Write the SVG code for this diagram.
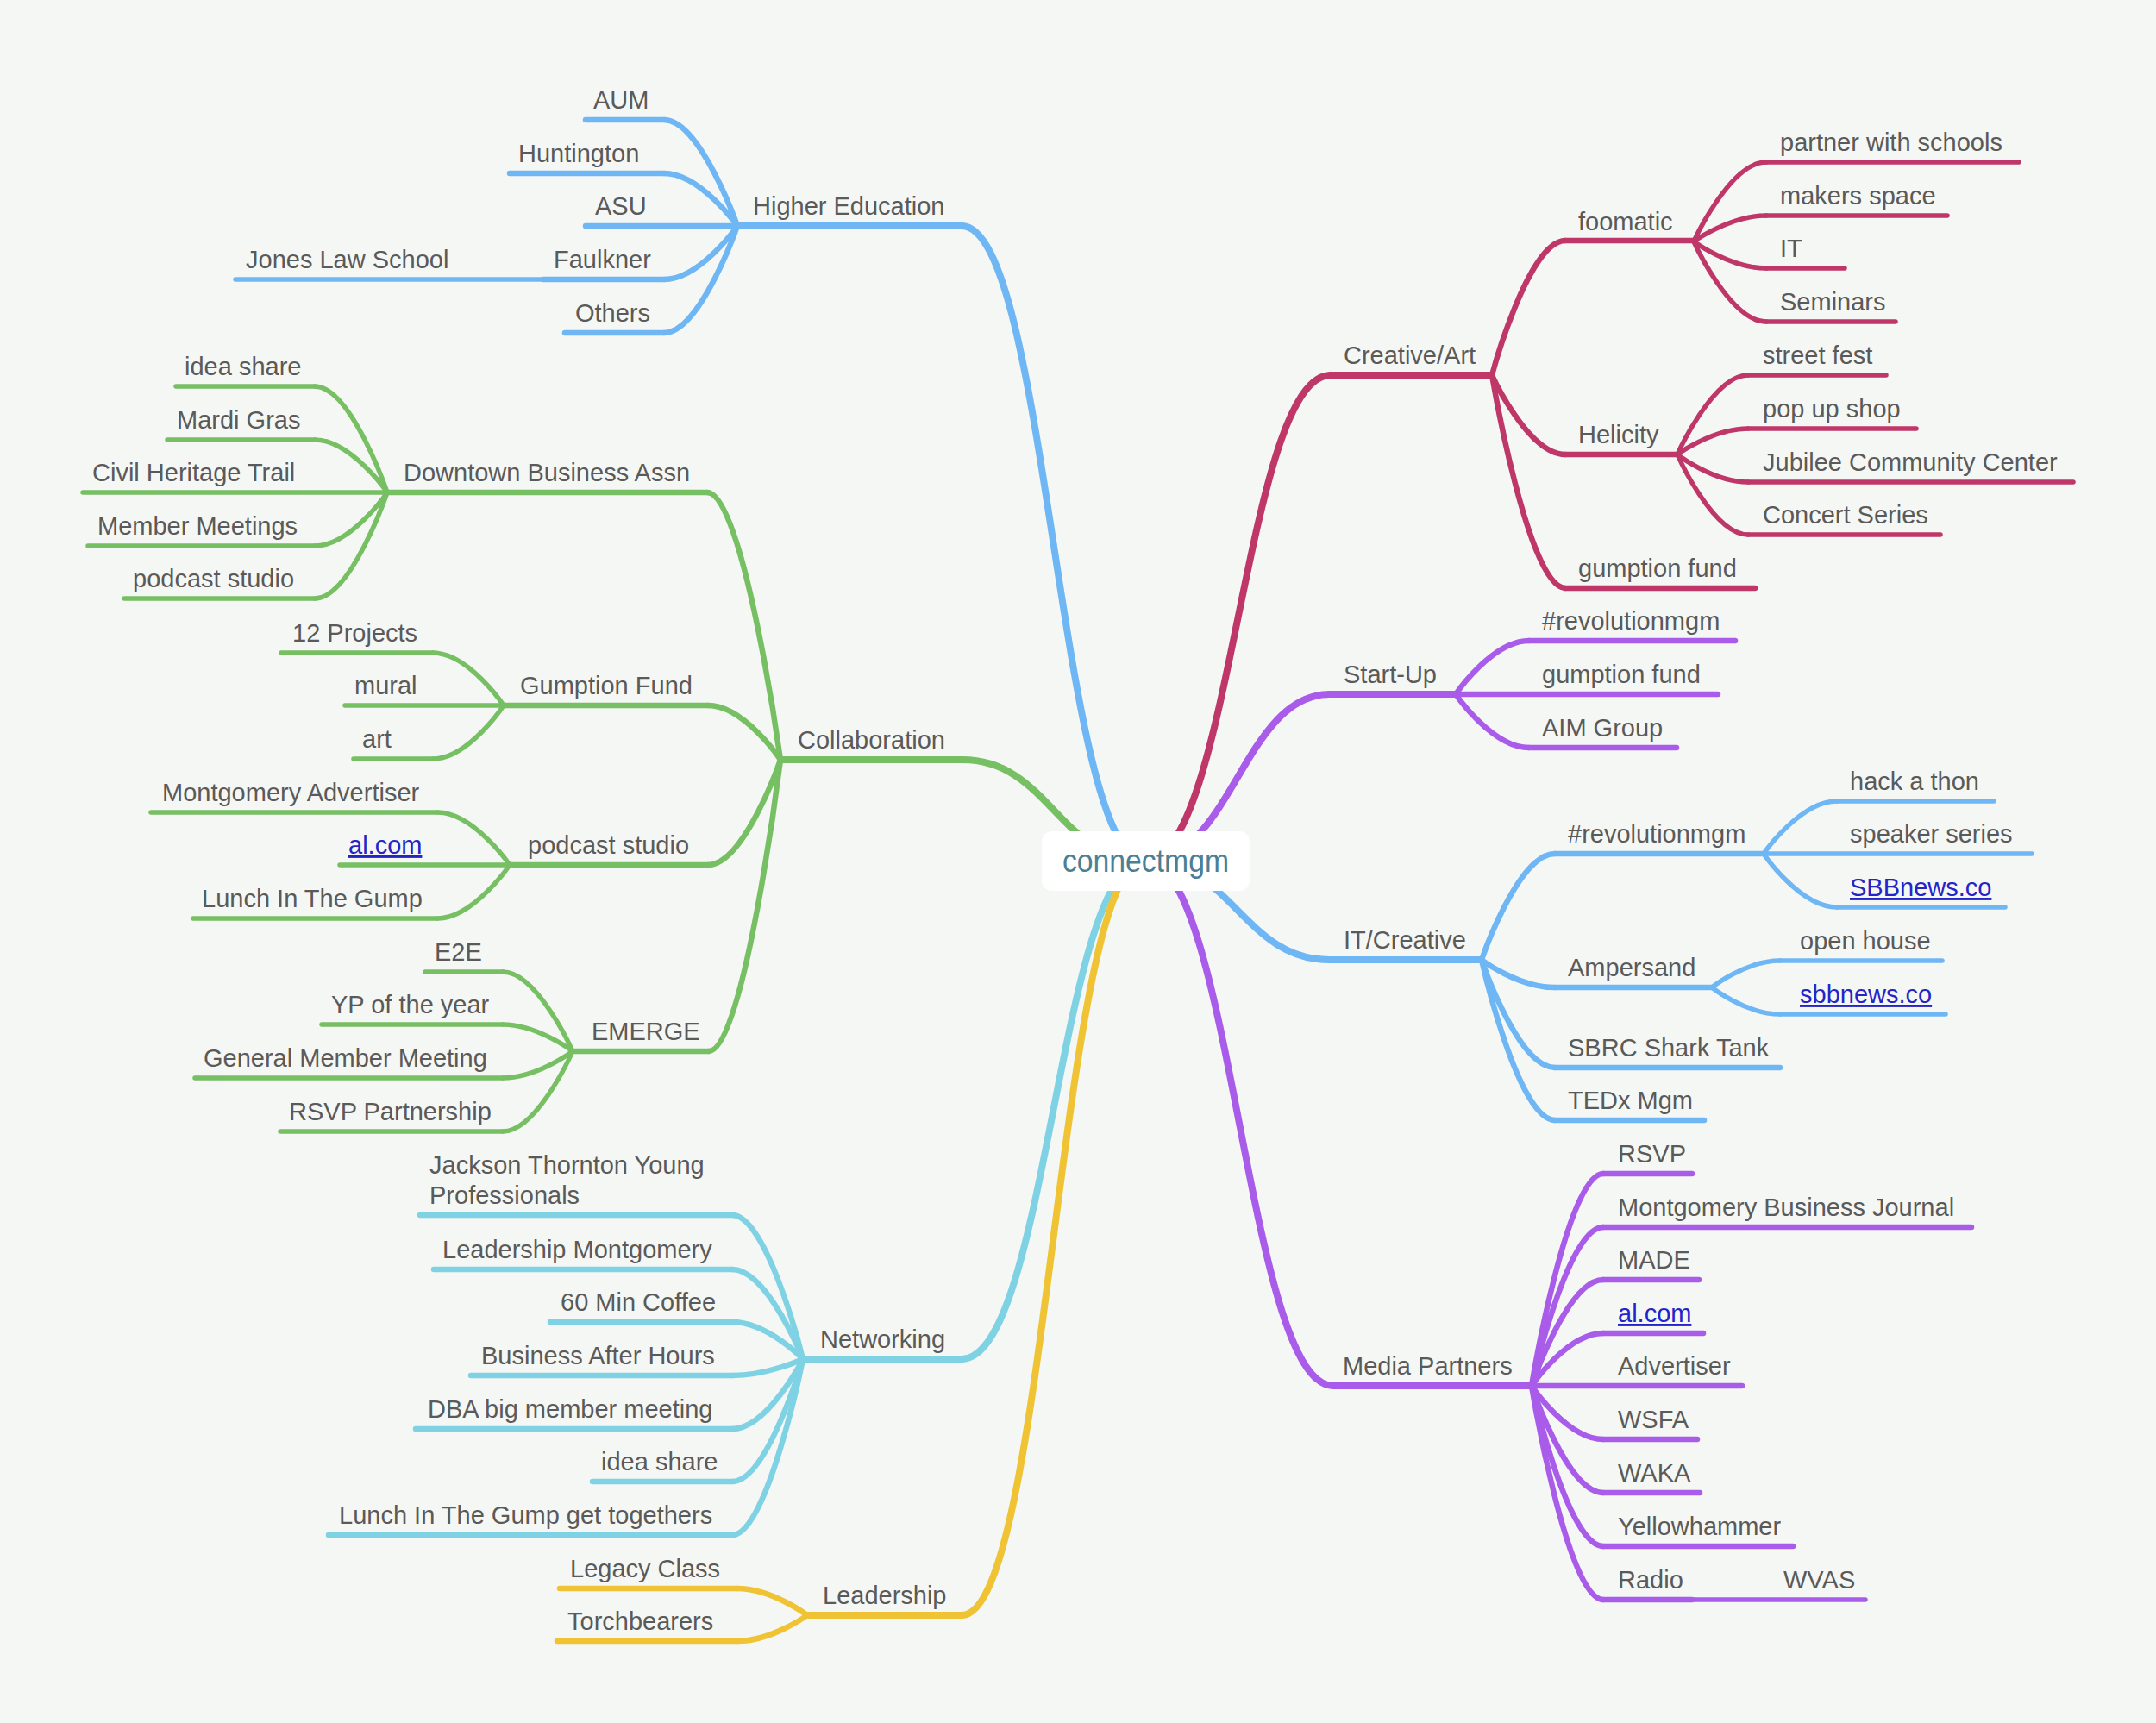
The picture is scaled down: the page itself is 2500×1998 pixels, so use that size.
<svg xmlns="http://www.w3.org/2000/svg" width="2500" height="1998" viewBox="0 0 2500 1998">
<style>
.t{font-family:"Liberation Sans",Arial,Helvetica,sans-serif;font-size:29px;fill:#5a5a5a}
.lk{fill:#2424c8;text-decoration:underline}
.ln{fill:none;stroke-linecap:round;stroke-linejoin:round}
.w1{stroke-width:8}.w2{stroke-width:6.5}.w3{stroke-width:5.5}
.bl{stroke:#6fb7f4}.gr{stroke:#77bf63}.cr{stroke:#bf3768}.pu{stroke:#a95ce9}.cy{stroke:#7fd2e4}.ye{stroke:#efc334}
</style>
<rect x="0" y="0" width="2500" height="1998" fill="#f5f7f4"/>
<g id="connectors" class="ln">
<!-- main branches -->
<path class="bl w1" d="M1328,998 C1228,998 1215,262 1115,262"/>
<path class="gr w1" d="M1328,998 C1228,998 1216,881 1116,881"/>
<path class="cy w1" d="M1328,998 C1228,998 1215,1576 1115,1576"/>
<path class="ye w1" d="M1328,998 C1228,998 1215,1873 1115,1873"/>
<path class="cr w1" d="M1328,998 C1428,998 1443,435 1543,435"/>
<path class="pu w1" d="M1328,998 C1428,998 1442,805 1542,805"/>
<path class="bl w1" d="M1328,998 C1428,998 1442,1113 1542,1113"/>
<path class="pu w1" d="M1328,998 C1428,998 1446,1607 1546,1607"/>
<!-- higher education -->
<path class="bl w2" d="M855,262 C855,262 812,139 770,139"/>
<path class="bl w2" d="M855,262 C855,262 812,201 770,201"/>
<path class="bl w2" d="M855,262 C855,262 812,324 770,324"/>
<path class="bl w2" d="M855,262 C855,262 812,386 770,386"/>
<!-- collaboration -->
<path class="gr w2" d="M905,881 C905,881 862,571 820,571"/>
<path class="gr w2" d="M905,881 C905,881 863,818 821,818"/>
<path class="gr w2" d="M905,881 C905,881 863,1003 821,1003"/>
<path class="gr w2" d="M905,881 C905,881 863,1219 822,1219"/>
<path class="gr w3" d="M449,571 C449,571 407,448 365,448"/>
<path class="gr w3" d="M449,571 C449,571 407,510 365,510"/>
<path class="gr w3" d="M449,571 C449,571 407,633 365,633"/>
<path class="gr w3" d="M449,571 C449,571 407,694 365,694"/>
<path class="gr w3" d="M584,818 C584,818 543,757 502,757"/>
<path class="gr w3" d="M584,818 C584,818 543,880 502,880"/>
<path class="gr w3" d="M591,1003 C591,1003 549,942 507,942"/>
<path class="gr w3" d="M591,1003 C591,1003 549,1065 507,1065"/>
<path class="gr w3" d="M664,1219 C664,1219 623,1127 583,1127"/>
<path class="gr w3" d="M664,1219 C664,1219 623,1188 583,1188"/>
<path class="gr w3" d="M664,1219 C664,1219 623,1250 583,1250"/>
<path class="gr w3" d="M664,1219 C664,1219 623,1312 583,1312"/>
<!-- networking -->
<path class="cy w2" d="M931,1576 C931,1576 890,1409 849,1409"/>
<path class="cy w2" d="M931,1576 C931,1576 890,1472 849,1472"/>
<path class="cy w2" d="M931,1576 C931,1576 890,1533 849,1533"/>
<path class="cy w2" d="M931,1576 C931,1576 890,1595 849,1595"/>
<path class="cy w2" d="M931,1576 C931,1576 890,1657 849,1657"/>
<path class="cy w2" d="M931,1576 C931,1576 890,1718 849,1718"/>
<path class="cy w2" d="M931,1576 C931,1576 890,1780 849,1780"/>
<!-- leadership -->
<path class="ye w2" d="M936,1873 C936,1873 895,1842 855,1842"/>
<path class="ye w2" d="M936,1873 C936,1873 895,1903 855,1903"/>
<!-- creative/art -->
<path class="cr w2" d="M1730,435 C1730,435 1772,279 1815,279"/>
<path class="cr w2" d="M1730,435 C1730,435 1772,527 1815,527"/>
<path class="cr w2" d="M1730,435 C1730,435 1772,682 1815,682"/>
<path class="cr w3" d="M1964,280 C1964,280 2006,188 2048,188"/>
<path class="cr w3" d="M1964,280 C1964,280 2006,250 2048,250"/>
<path class="cr w3" d="M1964,280 C1964,280 2006,311 2048,311"/>
<path class="cr w3" d="M1964,280 C1964,280 2006,373 2048,373"/>
<path class="cr w3" d="M1945,527 C1945,527 1986,435 2027,435"/>
<path class="cr w3" d="M1945,527 C1945,527 1986,497 2027,497"/>
<path class="cr w3" d="M1945,527 C1945,527 1986,559 2027,559"/>
<path class="cr w3" d="M1945,527 C1945,527 1986,620 2027,620"/>
<!-- start-up -->
<path class="pu w2" d="M1688,805 C1688,805 1730,743 1773,743"/>
<path class="pu w2" d="M1688,805 C1688,805 1730,867 1773,867"/>
<!-- it/creative -->
<path class="bl w2" d="M1718,1113 C1718,1113 1760,990 1803,990"/>
<path class="bl w2" d="M1718,1113 C1718,1113 1760,1145 1803,1145"/>
<path class="bl w2" d="M1718,1113 C1718,1113 1760,1238 1803,1238"/>
<path class="bl w2" d="M1718,1113 C1718,1113 1760,1299 1803,1299"/>
<path class="bl w3" d="M2045,990 C2045,990 2087,929 2130,929"/>
<path class="bl w3" d="M2045,990 C2045,990 2087,1052 2130,1052"/>
<path class="bl w3" d="M1985,1145 C1985,1145 2024,1114 2064,1114"/>
<path class="bl w3" d="M1985,1145 C1985,1145 2024,1176 2064,1176"/>
<!-- media partners -->
<path class="pu w2" d="M1776,1607 C1776,1607 1817,1361 1859,1361"/>
<path class="pu w2" d="M1776,1607 C1776,1607 1817,1423 1859,1423"/>
<path class="pu w2" d="M1776,1607 C1776,1607 1817,1484 1859,1484"/>
<path class="pu w2" d="M1776,1607 C1776,1607 1817,1546 1859,1546"/>
<path class="pu w2" d="M1776,1607 C1776,1607 1817,1669 1859,1669"/>
<path class="pu w2" d="M1776,1607 C1776,1607 1817,1731 1859,1731"/>
<path class="pu w2" d="M1776,1607 C1776,1607 1817,1793 1859,1793"/>
<path class="pu w2" d="M1776,1607 C1776,1607 1817,1855 1859,1855"/>
</g>

<!-- LEFT: Higher Education -->
<g id="higher-education"><line class="ln bl w1" x1="855" y1="262" x2="1115" y2="262"/><text class="t" x="873" y="249">Higher Education</text></g>
<g id="aum"><line class="ln bl w2" x1="679" y1="139" x2="770" y2="139"/><text class="t" x="688" y="126">AUM</text></g>
<g id="huntington"><line class="ln bl w2" x1="591" y1="201" x2="770" y2="201"/><text class="t" x="601" y="188">Huntington</text></g>
<g id="asu"><line class="ln bl w2" x1="679" y1="262" x2="855" y2="262"/><text class="t" x="690" y="249">ASU</text></g>
<g id="faulkner"><line class="ln bl w2" x1="630" y1="324" x2="770" y2="324"/><text class="t" x="642" y="311">Faulkner</text></g>
<g id="jones-law-school"><line class="ln bl w3" x1="273" y1="324" x2="630" y2="324"/><text class="t" x="285" y="311">Jones Law School</text></g>
<g id="others"><line class="ln bl w2" x1="655" y1="386" x2="770" y2="386"/><text class="t" x="667" y="373">Others</text></g>

<!-- LEFT: Collaboration -->
<g id="collaboration"><line class="ln gr w1" x1="905" y1="881" x2="1116" y2="881"/><text class="t" x="925" y="868">Collaboration</text></g>
<g id="downtown-business-assn"><line class="ln gr w2" x1="449" y1="571" x2="820" y2="571"/><text class="t" x="468" y="558">Downtown Business Assn</text></g>
<g id="idea-share-1"><line class="ln gr w3" x1="204" y1="448" x2="365" y2="448"/><text class="t" x="214" y="435">idea share</text></g>
<g id="mardi-gras"><line class="ln gr w3" x1="194" y1="510" x2="365" y2="510"/><text class="t" x="205" y="497">Mardi Gras</text></g>
<g id="civil-heritage-trail"><line class="ln gr w3" x1="96" y1="571" x2="449" y2="571"/><text class="t" x="107" y="558">Civil Heritage Trail</text></g>
<g id="member-meetings"><line class="ln gr w3" x1="102" y1="633" x2="365" y2="633"/><text class="t" x="113" y="620">Member Meetings</text></g>
<g id="podcast-studio-1"><line class="ln gr w3" x1="144" y1="694" x2="365" y2="694"/><text class="t" x="154" y="681">podcast studio</text></g>
<g id="gumption-fund-1"><line class="ln gr w2" x1="584" y1="818" x2="821" y2="818"/><text class="t" x="603" y="805">Gumption Fund</text></g>
<g id="12-projects"><line class="ln gr w3" x1="326" y1="757" x2="502" y2="757"/><text class="t" x="339" y="744">12 Projects</text></g>
<g id="mural"><line class="ln gr w3" x1="400" y1="818" x2="584" y2="818"/><text class="t" x="411" y="805">mural</text></g>
<g id="art"><line class="ln gr w3" x1="410" y1="880" x2="502" y2="880"/><text class="t" x="420" y="867">art</text></g>
<g id="podcast-studio-2"><line class="ln gr w2" x1="591" y1="1003" x2="821" y2="1003"/><text class="t" x="612" y="990">podcast studio</text></g>
<g id="montgomery-advertiser"><line class="ln gr w3" x1="175" y1="942" x2="507" y2="942"/><text class="t" x="188" y="929">Montgomery Advertiser</text></g>
<g id="alcom-1"><line class="ln gr w3" x1="394" y1="1003" x2="591" y2="1003"/><text class="t lk" x="404" y="990">al.com</text></g>
<g id="lunch-in-the-gump"><line class="ln gr w3" x1="224" y1="1065" x2="507" y2="1065"/><text class="t" x="234" y="1052">Lunch In The Gump</text></g>
<g id="emerge"><line class="ln gr w2" x1="664" y1="1219" x2="822" y2="1219"/><text class="t" x="686" y="1206">EMERGE</text></g>
<g id="e2e"><line class="ln gr w3" x1="493" y1="1127" x2="583" y2="1127"/><text class="t" x="504" y="1114">E2E</text></g>
<g id="yp-of-the-year"><line class="ln gr w3" x1="373" y1="1188" x2="583" y2="1188"/><text class="t" x="384" y="1175">YP of the year</text></g>
<g id="general-member-meeting"><line class="ln gr w3" x1="226" y1="1250" x2="583" y2="1250"/><text class="t" x="236" y="1237">General Member Meeting</text></g>
<g id="rsvp-partnership"><line class="ln gr w3" x1="325" y1="1312" x2="583" y2="1312"/><text class="t" x="335" y="1299">RSVP Partnership</text></g>

<!-- LEFT: Networking -->
<g id="networking"><line class="ln cy w1" x1="931" y1="1576" x2="1115" y2="1576"/><text class="t" x="951" y="1563">Networking</text></g>
<g id="jackson-thornton"><line class="ln cy w2" x1="487" y1="1409" x2="849" y2="1409"/><text class="t" x="498" y="1361">Jackson Thornton Young</text><text class="t" x="498" y="1396">Professionals</text></g>
<g id="leadership-montgomery"><line class="ln cy w2" x1="503" y1="1472" x2="849" y2="1472"/><text class="t" x="513" y="1459">Leadership Montgomery</text></g>
<g id="60-min-coffee"><line class="ln cy w2" x1="638" y1="1533" x2="849" y2="1533"/><text class="t" x="650" y="1520">60 Min Coffee</text></g>
<g id="business-after-hours"><line class="ln cy w2" x1="546" y1="1595" x2="849" y2="1595"/><text class="t" x="558" y="1582">Business After Hours</text></g>
<g id="dba-big-member-meeting"><line class="ln cy w2" x1="482" y1="1657" x2="849" y2="1657"/><text class="t" x="496" y="1644">DBA big member meeting</text></g>
<g id="idea-share-2"><line class="ln cy w2" x1="687" y1="1718" x2="849" y2="1718"/><text class="t" x="697" y="1705">idea share</text></g>
<g id="lunch-get-togethers"><line class="ln cy w2" x1="381" y1="1780" x2="849" y2="1780"/><text class="t" x="393" y="1767">Lunch In The Gump get togethers</text></g>

<!-- LEFT: Leadership -->
<g id="leadership"><line class="ln ye w1" x1="936" y1="1873" x2="1115" y2="1873"/><text class="t" x="954" y="1860">Leadership</text></g>
<g id="legacy-class"><line class="ln ye w2" x1="649" y1="1842" x2="855" y2="1842"/><text class="t" x="661" y="1829">Legacy Class</text></g>
<g id="torchbearers"><line class="ln ye w2" x1="646" y1="1903" x2="855" y2="1903"/><text class="t" x="658" y="1890">Torchbearers</text></g>

<!-- RIGHT: Creative/Art -->
<g id="creative-art"><line class="ln cr w1" x1="1543" y1="435" x2="1730" y2="435"/><text class="t" x="1558" y="422">Creative/Art</text></g>
<g id="foomatic"><line class="ln cr w2" x1="1815" y1="279" x2="1964" y2="279"/><text class="t" x="1830" y="267">foomatic</text></g>
<g id="partner-with-schools"><line class="ln cr w3" x1="2048" y1="188" x2="2341" y2="188"/><text class="t" x="2064" y="175">partner with schools</text></g>
<g id="makers-space"><line class="ln cr w3" x1="2048" y1="250" x2="2258" y2="250"/><text class="t" x="2064" y="237">makers space</text></g>
<g id="it"><line class="ln cr w3" x1="2048" y1="311" x2="2139" y2="311"/><text class="t" x="2064" y="298">IT</text></g>
<g id="seminars"><line class="ln cr w3" x1="2048" y1="373" x2="2198" y2="373"/><text class="t" x="2064" y="360">Seminars</text></g>
<g id="helicity"><line class="ln cr w2" x1="1815" y1="527" x2="1945" y2="527"/><text class="t" x="1830" y="514">Helicity</text></g>
<g id="street-fest"><line class="ln cr w3" x1="2027" y1="435" x2="2187" y2="435"/><text class="t" x="2044" y="422">street fest</text></g>
<g id="pop-up-shop"><line class="ln cr w3" x1="2027" y1="497" x2="2222" y2="497"/><text class="t" x="2044" y="484">pop up shop</text></g>
<g id="jubilee"><line class="ln cr w3" x1="2027" y1="559" x2="2404" y2="559"/><text class="t" x="2044" y="546">Jubilee Community Center</text></g>
<g id="concert-series"><line class="ln cr w3" x1="2027" y1="620" x2="2250" y2="620"/><text class="t" x="2044" y="607">Concert Series</text></g>
<g id="gumption-fund-2"><line class="ln cr w2" x1="1815" y1="682" x2="2035" y2="682"/><text class="t" x="1830" y="669">gumption fund</text></g>

<!-- RIGHT: Start-Up -->
<g id="start-up"><line class="ln pu w1" x1="1542" y1="805" x2="1688" y2="805"/><text class="t" x="1558" y="792">Start-Up</text></g>
<g id="revolutionmgm-1"><line class="ln pu w2" x1="1773" y1="743" x2="2012" y2="743"/><text class="t" x="1788" y="730">#revolutionmgm</text></g>
<g id="gumption-fund-3"><line class="ln pu w2" x1="1688" y1="805" x2="1992" y2="805"/><text class="t" x="1788" y="792">gumption fund</text></g>
<g id="aim-group"><line class="ln pu w2" x1="1773" y1="867" x2="1944" y2="867"/><text class="t" x="1788" y="854">AIM Group</text></g>

<!-- RIGHT: IT/Creative -->
<g id="it-creative"><line class="ln bl w1" x1="1542" y1="1113" x2="1718" y2="1113"/><text class="t" x="1558" y="1100">IT/Creative</text></g>
<g id="revolutionmgm-2"><line class="ln bl w2" x1="1803" y1="990" x2="2045" y2="990"/><text class="t" x="1818" y="977">#revolutionmgm</text></g>
<g id="hack-a-thon"><line class="ln bl w3" x1="2130" y1="929" x2="2312" y2="929"/><text class="t" x="2145" y="916">hack a thon</text></g>
<g id="speaker-series"><line class="ln bl w3" x1="2045" y1="990" x2="2356" y2="990"/><text class="t" x="2145" y="977">speaker series</text></g>
<g id="sbbnews-1"><line class="ln bl w3" x1="2130" y1="1052" x2="2325" y2="1052"/><text class="t lk" x="2145" y="1039">SBBnews.co</text></g>
<g id="ampersand"><line class="ln bl w2" x1="1803" y1="1145" x2="1985" y2="1145"/><text class="t" x="1818" y="1132">Ampersand</text></g>
<g id="open-house"><line class="ln bl w3" x1="2064" y1="1114" x2="2252" y2="1114"/><text class="t" x="2087" y="1101">open house</text></g>
<g id="sbbnews-2"><line class="ln bl w3" x1="2064" y1="1176" x2="2256" y2="1176"/><text class="t lk" x="2087" y="1163">sbbnews.co</text></g>
<g id="sbrc-shark-tank"><line class="ln bl w2" x1="1803" y1="1238" x2="2064" y2="1238"/><text class="t" x="1818" y="1225">SBRC Shark Tank</text></g>
<g id="tedx-mgm"><line class="ln bl w2" x1="1803" y1="1299" x2="1976" y2="1299"/><text class="t" x="1818" y="1286">TEDx Mgm</text></g>

<!-- RIGHT: Media Partners -->
<g id="media-partners"><line class="ln pu w1" x1="1546" y1="1607" x2="1776" y2="1607"/><text class="t" x="1557" y="1594">Media Partners</text></g>
<g id="rsvp"><line class="ln pu w2" x1="1859" y1="1361" x2="1962" y2="1361"/><text class="t" x="1876" y="1348">RSVP</text></g>
<g id="mbj"><line class="ln pu w2" x1="1859" y1="1423" x2="2286" y2="1423"/><text class="t" x="1876" y="1410">Montgomery Business Journal</text></g>
<g id="made"><line class="ln pu w2" x1="1859" y1="1484" x2="1970" y2="1484"/><text class="t" x="1876" y="1471">MADE</text></g>
<g id="alcom-2"><line class="ln pu w2" x1="1859" y1="1546" x2="1975" y2="1546"/><text class="t lk" x="1876" y="1533">al.com</text></g>
<g id="advertiser"><line class="ln pu w2" x1="1776" y1="1607" x2="2020" y2="1607"/><text class="t" x="1876" y="1594">Advertiser</text></g>
<g id="wsfa"><line class="ln pu w2" x1="1859" y1="1669" x2="1968" y2="1669"/><text class="t" x="1876" y="1656">WSFA</text></g>
<g id="waka"><line class="ln pu w2" x1="1859" y1="1731" x2="1971" y2="1731"/><text class="t" x="1876" y="1718">WAKA</text></g>
<g id="yellowhammer"><line class="ln pu w2" x1="1859" y1="1793" x2="2079" y2="1793"/><text class="t" x="1876" y="1780">Yellowhammer</text></g>
<g id="radio"><line class="ln pu w2" x1="1859" y1="1855" x2="1962" y2="1855"/><text class="t" x="1876" y="1842">Radio</text></g>
<g id="wvas"><line class="ln pu w3" x1="1962" y1="1855" x2="2163" y2="1855"/><text class="t" x="2068" y="1842">WVAS</text></g>

<!-- center -->
<g id="connectmgm">
<rect x="1208" y="964" width="241" height="69" rx="12" ry="12" fill="#ffffff"/>
<text x="1328.5" y="1011" text-anchor="middle" textLength="193" lengthAdjust="spacingAndGlyphs" style="font-family:'Liberation Sans',Arial,sans-serif;font-size:37px;fill:#4b7f93">connectmgm</text>
</g>
</svg>
